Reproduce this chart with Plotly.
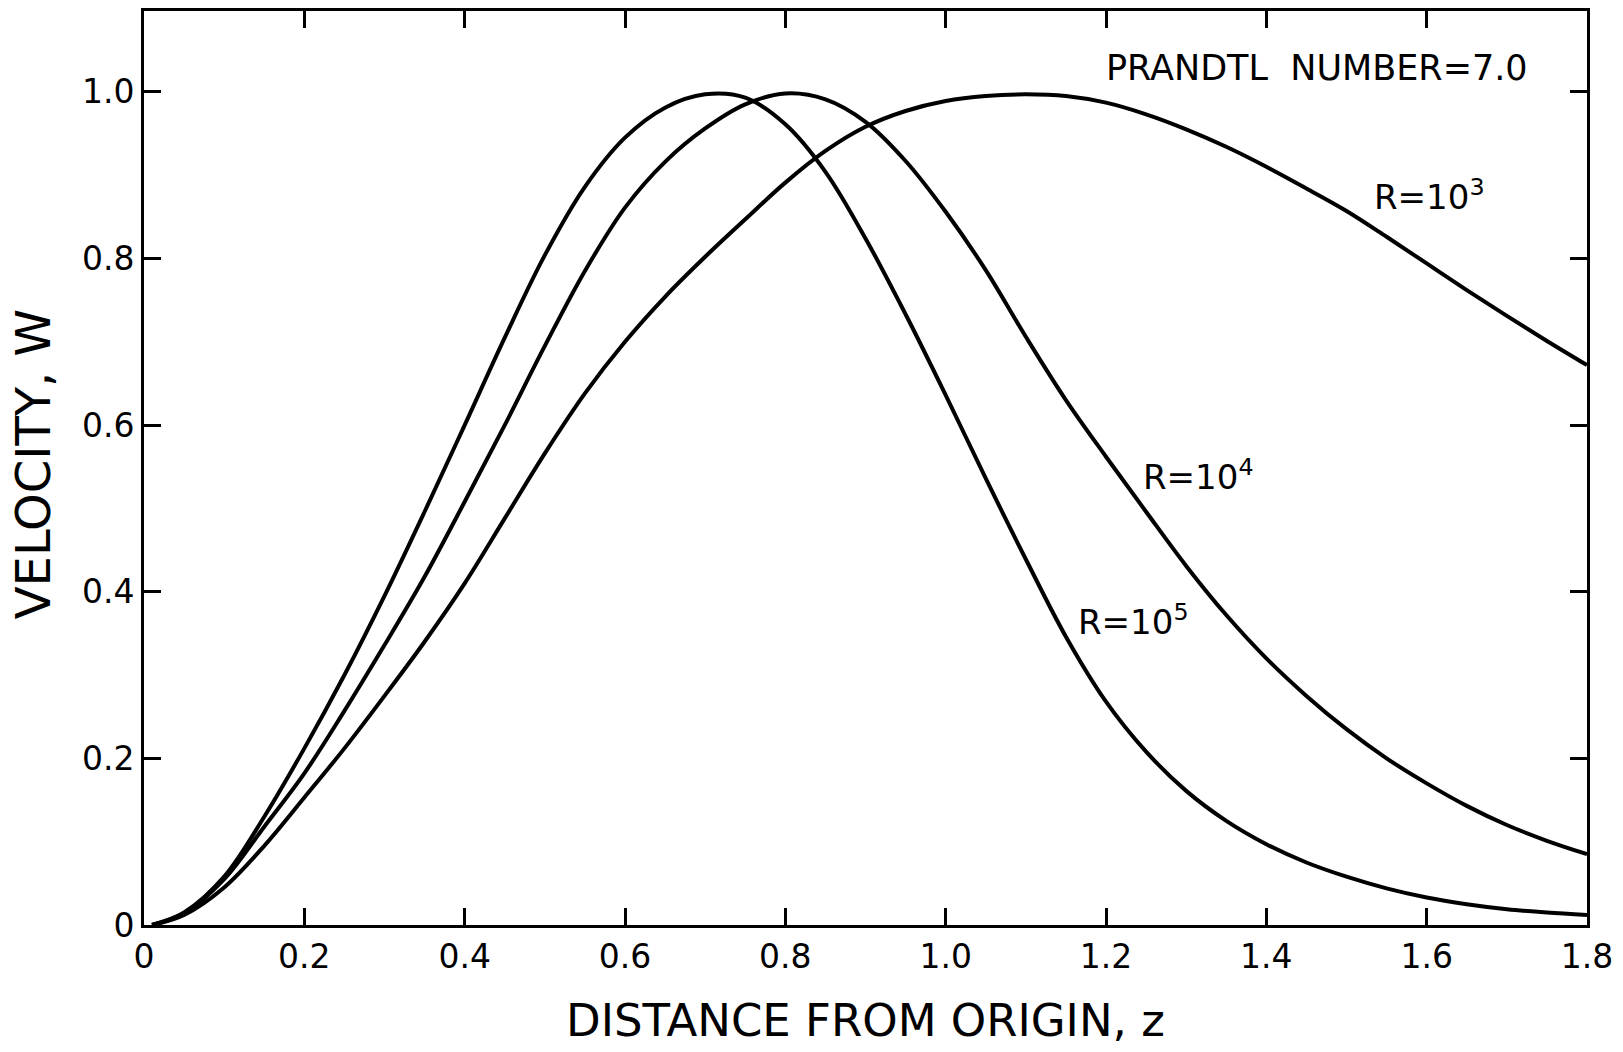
import plotly.graph_objects as go

# Velocity profiles W(z) at Prandtl number 7.0, for three values of R.
# Distance from origin, sampled every 0.05
z_pts = [0.01, 0.05, 0.10, 0.15, 0.20, 0.25, 0.30, 0.35, 0.40, 0.45, 0.50, 0.55,
         0.60, 0.65, 0.70, 0.75, 0.80, 0.85, 0.90, 0.95, 1.00, 1.05, 1.10, 1.15,
         1.20, 1.25, 1.30, 1.35, 1.40, 1.45, 1.50, 1.55, 1.60, 1.65, 1.70, 1.75,
         1.80]

w_r1e5 = [0.0, 0.015, 0.058, 0.130, 0.212, 0.300, 0.395, 0.496, 0.600, 0.705, 0.804,
          0.886, 0.945, 0.981, 0.997, 0.993, 0.961, 0.904, 0.824, 0.733, 0.636, 0.536,
          0.439, 0.346, 0.268, 0.208, 0.161, 0.125, 0.097, 0.075, 0.058, 0.044, 0.033,
          0.025, 0.019, 0.015, 0.012]

w_r1e4 = [0.0, 0.014, 0.055, 0.118, 0.182, 0.257, 0.336, 0.418, 0.508, 0.600, 0.695,
          0.785, 0.861, 0.916, 0.956, 0.985, 0.998, 0.991, 0.964, 0.917, 0.856, 0.786,
          0.706, 0.630, 0.562, 0.496, 0.431, 0.372, 0.320, 0.275, 0.235, 0.200, 0.170,
          0.143, 0.120, 0.101, 0.085]

w_r1e3 = [0.0, 0.012, 0.045, 0.095, 0.153, 0.212, 0.275, 0.340, 0.410, 0.488, 0.566,
          0.638, 0.700, 0.754, 0.802, 0.847, 0.891, 0.929, 0.958, 0.977, 0.989, 0.995,
          0.997, 0.995, 0.987, 0.973, 0.955, 0.934, 0.910, 0.884, 0.857, 0.826, 0.794,
          0.762, 0.731, 0.701, 0.672]

x_ticks = [0, 0.2, 0.4, 0.6, 0.8, 1.0, 1.2, 1.4, 1.6, 1.8]
x_tick_text = ["0", "0.2", "0.4", "0.6", "0.8", "1.0", "1.2", "1.4", "1.6", "1.8"]
y_ticks = [0, 0.2, 0.4, 0.6, 0.8, 1.0]
y_tick_text = ["0", "0.2", "0.4", "0.6", "0.8", "1.0"]

FONT = "DejaVu Sans"
INK = "black"

fig = go.Figure()
for ws in [w_r1e3, w_r1e4, w_r1e5]:
    fig.add_trace(go.Scatter(
        x=z_pts, y=ws, mode="lines",
        line=dict(color=INK, width=4, shape="spline", smoothing=1.0),
        showlegend=False, hoverinfo="skip",
    ))

axis_common = dict(
    showline=True, linewidth=3, linecolor=INK, mirror="ticks",
    ticks="inside", ticklen=17, tickwidth=3, tickcolor=INK,
    showgrid=False, zeroline=False,
    tickfont=dict(family=FONT, size=33, color=INK),
)

fig.update_xaxes(range=[0, 1.8], tickvals=x_ticks, ticktext=x_tick_text,
                 ticklabelstandoff=0, **axis_common)
fig.update_yaxes(range=[0, 1.097], tickvals=y_ticks, ticktext=y_tick_text,
                 ticklabelstandoff=0, **axis_common)

label_font = dict(family=FONT, size=34, color=INK)
fig.add_annotation(x=1.197, y=1.029, text="PRANDTL  NUMBER=7.0", showarrow=False,
                   xanchor="left", yanchor="middle", font=dict(family=FONT, size=35, color=INK))
fig.add_annotation(x=1.532, y=0.876, text="R=10<sup>3</sup>", showarrow=False,
                   xanchor="left", yanchor="middle", font=label_font)
fig.add_annotation(x=1.244, y=0.540, text="R=10<sup>4</sup>", showarrow=False,
                   xanchor="left", yanchor="middle", font=label_font)
fig.add_annotation(x=1.163, y=0.366, text="R=10<sup>5</sup>", showarrow=False,
                   xanchor="left", yanchor="middle", font=label_font)

# axis titles
fig.add_annotation(xref="paper", yref="paper", x=0.5, y=-0.1047,
                   text="DISTANCE FROM ORIGIN, z", showarrow=False,
                   xanchor="center", yanchor="middle",
                   font=dict(family=FONT, size=45, color=INK))
fig.add_annotation(xref="paper", yref="paper", x=-0.077, y=0.504,
                   text="VELOCITY, W", showarrow=False, textangle=-90,
                   xanchor="center", yanchor="middle",
                   font=dict(family=FONT, size=48, color=INK))

fig.update_layout(
    width=1623, height=1052, autosize=False,
    margin=dict(l=144, r=36, t=8, b=127),
    paper_bgcolor="white", plot_bgcolor="white",
)

fig.write_html("out.html")
